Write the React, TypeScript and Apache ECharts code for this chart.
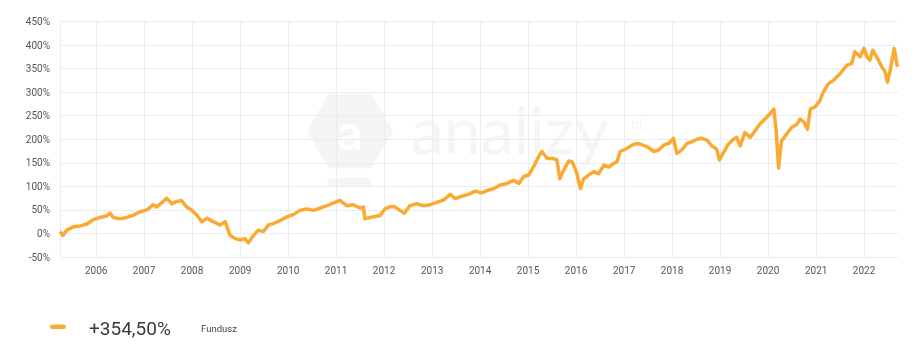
import React, { useEffect, useRef } from "react";
import * as echarts from "echarts";

const dates: string[] = [
  "2005-04-01","2005-04-23","2005-05-23","2005-07-13","2005-09-02","2005-10-23","2005-12-09",
  "2006-01-30","2006-03-22","2006-04-16","2006-05-12","2006-07-02","2006-08-22","2006-10-12","2006-12-02",
  "2007-01-23","2007-03-11","2007-04-05","2007-05-27","2007-06-21","2007-08-01","2007-09-06","2007-10-12","2007-11-21","2007-12-28",
  "2008-02-06","2008-03-14","2008-04-23","2008-06-10","2008-07-31","2008-09-09","2008-10-16","2008-11-25",
  "2009-01-01","2009-02-06","2009-03-04","2009-04-13","2009-05-19","2009-06-28","2009-08-04","2009-09-09","2009-10-30","2009-12-20",
  "2010-02-09","2010-04-01","2010-05-22","2010-07-13","2010-09-02","2010-10-23","2010-12-24",
  "2011-01-30","2011-03-22","2011-05-12","2011-07-02","2011-07-28","2011-08-08","2011-09-17","2011-10-23","2011-12-02",
  "2012-01-08","2012-02-17","2012-03-25","2012-05-01","2012-06-03","2012-07-16","2012-09-06","2012-10-27","2012-12-17",
  "2013-02-06","2013-03-29","2013-05-19","2013-06-25","2013-08-15","2013-10-05","2013-11-25",
  "2014-01-12","2014-02-21","2014-04-13","2014-06-03","2014-07-24","2014-09-13","2014-10-23","2014-11-29",
  "2015-01-05","2015-02-14","2015-03-22","2015-04-16","2015-05-27","2015-07-13","2015-08-08","2015-08-30","2015-09-28","2015-11-07","2015-12-02",
  "2016-01-04","2016-02-03","2016-02-28","2016-04-05","2016-05-15","2016-06-21","2016-07-31","2016-09-06","2016-10-16","2016-11-07","2016-12-02",
  "2017-01-12","2017-03-04","2017-04-09","2017-05-19","2017-06-25","2017-08-15","2017-09-20","2017-10-30","2017-12-06",
  "2018-01-12","2018-02-06","2018-03-14","2018-04-23","2018-06-03","2018-07-09","2018-08-15","2018-09-24","2018-10-30","2018-12-06","2018-12-27",
  "2019-01-26","2019-03-04","2019-04-13","2019-05-08","2019-06-03","2019-07-09","2019-08-19","2019-09-24","2019-10-30","2019-12-09",
  "2020-01-15","2020-02-14","2020-03-03","2020-03-21","2020-04-12","2020-05-22","2020-06-28","2020-08-07","2020-09-02","2020-10-01","2020-10-27","2020-11-18","2020-12-24",
  "2021-01-30","2021-02-24","2021-04-05","2021-05-12","2021-07-02","2021-08-22","2021-09-28","2021-10-23","2021-12-02",
  "2022-01-01","2022-01-23","2022-02-14","2022-03-08","2022-04-06","2022-05-16","2022-06-10","2022-06-28","2022-07-16","2022-08-18","2022-09-09","2022-09-16"
];

const fundValues: number[] = [
  4,-4,7,14,16,20,29,
  34,37,43,34,31,34,39,46,
  50,61,56,68,75,63,68,70,56,50,
  39,25,32,25,18,25,-4,-11,
  -14,-11,-20,-4,7,4,18,21,27,35,
  40,49,52,49,54,59,66,
  70,59,61,54,56,31,34,36,38,
  52,57,56,49,43,59,63,59,61,
  66,71,83,74,79,83,90,
  86,91,95,103,106,113,106,121,
  124,143,163,174,159,159,156,116,134,154,152,
  131,95,116,124,131,127,145,141,149,152,174,
  179,188,191,188,184,174,177,188,191,
  202,170,177,191,195,200,202,198,186,179,156,
  171,189,200,204,186,214,204,218,232,243,
  254,264,218,139,196,211,225,232,243,236,221,264,269,
  282,300,318,325,339,357,361,386,375,
  393,375,368,389,375,354,343,321,343,393,357,354.5
];

const yearTicks: number[] = [2006,2007,2008,2009,2010,2011,2012,2013,2014,2015,2016,2017,2018,2019,2020,2021,2022];
const xMin = "2005-04-01";
const xMax = "2022-09-16";
const resultLabel = "+354,50%";
const seriesName = "Fundusz";

const ts = (s: string) => Date.parse(s + "T00:00:00Z");

export default function App() {
  const ref = useRef<HTMLDivElement>(null);
  useEffect(() => {
    document.body.style.margin = "0";
    const chart = echarts.init(ref.current!, null, { renderer: "svg" });
    const tickValues = yearTicks.map((y) => Date.UTC(y, 0, 1));
    const data = dates.map((d, i) => [ts(d), fundValues[i]]);
    const font = "Roboto, 'Noto Sans', sans-serif";
    const cx = 350, cy = 131, r = 43;
    const hex: number[][] = [];
    for (let k = 0; k < 6; k++) {
      const a = (Math.PI / 3) * k;
      hex.push([cx + r * Math.cos(a), cy + r * Math.sin(a)]);
    }
    const wm = "#f4f5f7";
    chart.setOption({
      animation: false,
      grid: { left: 60, right: 22, top: 21.5, bottom: 103, containLabel: false },
      xAxis: {
        type: "value",
        min: ts(xMin),
        max: ts(xMax),
        axisLine: { show: false },
        axisTick: { show: false, customValues: tickValues },
        axisLabel: {
          customValues: tickValues,
          formatter: (v: number) => String(new Date(v).getUTCFullYear()),
          color: "#555",
          fontSize: 10,
          fontFamily: font,
          margin: 8,
        },
        splitLine: { show: true, lineStyle: { color: "#eaecf1", width: 1 } },
      },
      yAxis: {
        type: "value",
        min: -50,
        max: 450,
        interval: 50,
        axisLine: { show: true, lineStyle: { color: "#eaecf1" } },
        axisTick: { show: false },
        axisLabel: { formatter: "{value}%", color: "#555", fontSize: 10, fontFamily: font, margin: 10 },
        splitLine: { show: true, lineStyle: { color: "#eaecf1", width: 1 } },
      },
      graphic: [
        { type: "polygon", z: -10, shape: { points: hex }, style: { fill: wm }, silent: true },
        { type: "rect", z: -10, shape: { x: 327, y: 178, width: 44, height: 9, r: 4.5 }, style: { fill: wm }, silent: true },
        { type: "text", z: -9, x: cx, y: cy, style: { text: "a", fill: "#ffffff", font: "700 50px Lato, sans-serif", textAlign: "center", textVerticalAlign: "middle" }, silent: true },
        { type: "text", z: -9, x: 411, y: 128, style: { text: "analizy", fill: wm, font: "400 66px Lato, sans-serif", textAlign: "left", textVerticalAlign: "middle" }, silent: true },
        { type: "text", z: -9, x: 631, y: 122, style: { text: "pl", fill: wm, font: "400 14px Lato, sans-serif", textAlign: "left", textVerticalAlign: "middle" }, silent: true },
        { type: "rect", shape: { x: 50, y: 324.5, width: 16, height: 4.5, r: 2.25 }, style: { fill: "#F9AA33" } },
        { type: "text", x: 89, y: 328, style: { text: resultLabel, fill: "#3a3a3a", font: "19px " + font, textAlign: "left", textVerticalAlign: "middle" } },
        { type: "text", x: 201, y: 328, style: { text: seriesName, fill: "#444", font: "9.5px " + font, textAlign: "left", textVerticalAlign: "middle" } },
      ],
      series: [
        {
          name: seriesName,
          type: "line",
          data,
          showSymbol: false,
          symbol: "none",
          lineStyle: { color: "#F9AA33", width: 3.5, join: "round" },
          itemStyle: { color: "#F9AA33" },
          z: 5,
        },
      ],
    });
    return () => chart.dispose();
  }, []);
  return <div ref={ref} style={{ position: "fixed", left: 0, top: 0, width: 920, height: 360 }} />;
}
